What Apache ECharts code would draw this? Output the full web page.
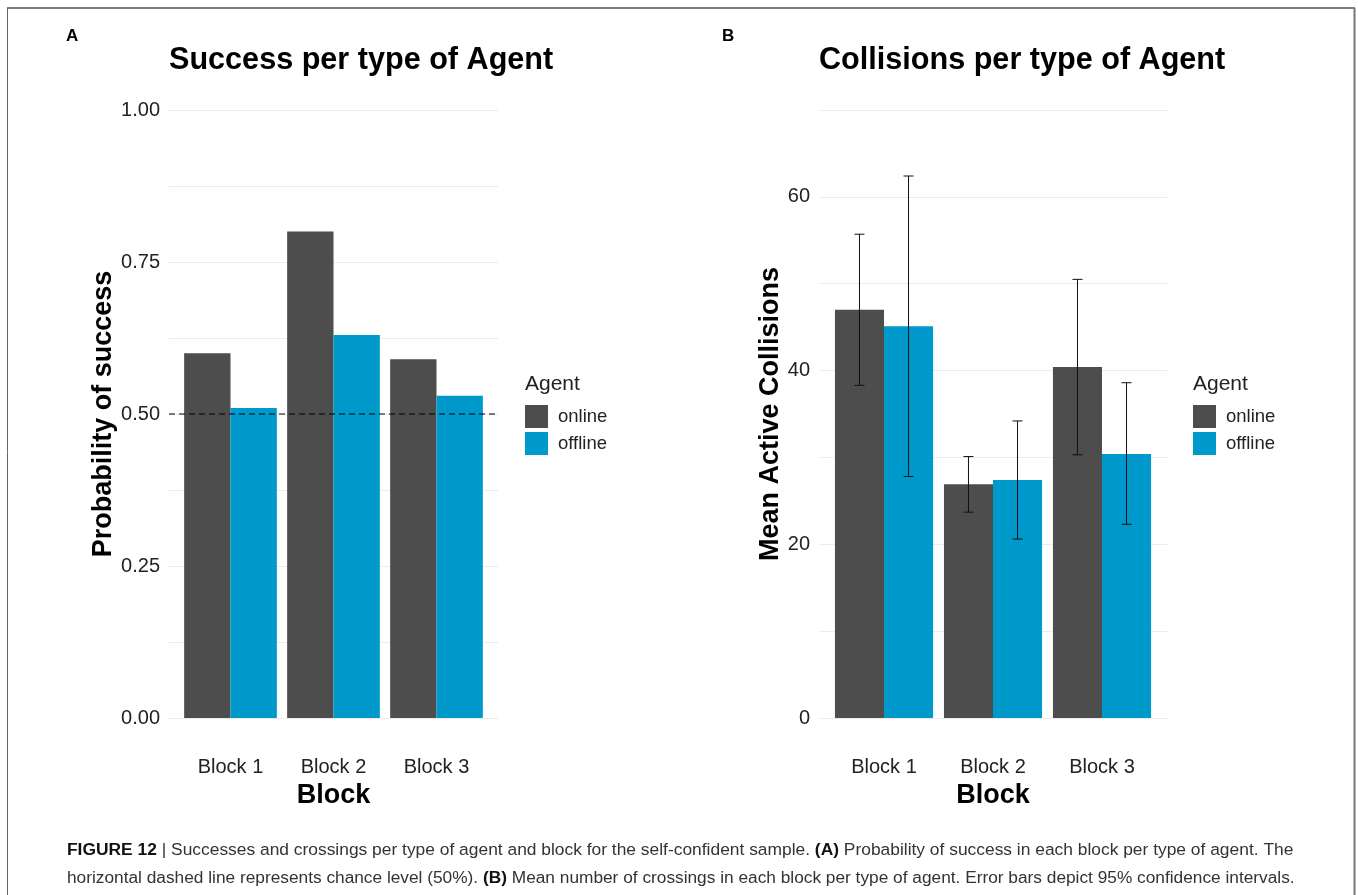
<!DOCTYPE html>
<html>
<head>
<meta charset="utf-8">
<script src="https://cdn.jsdelivr.net/npm/echarts@6/dist/echarts.min.js"></script>
<style>
html,body{margin:0;padding:0;background:#fff;}
#chart{width:1358px;height:895px;}
</style>
</head>
<body>
<div id="chart"></div>
<script>
// ---- data ----
const categories = ['Block 1', 'Block 2', 'Block 3'];
const agents = ['online', 'offline'];
const successOnline = [0.60, 0.80, 0.59];
const successOffline = [0.51, 0.63, 0.53];
const chanceLevel = 0.5;
const collisionsOnline = [47.0, 26.9, 40.4];
const collisionsOffline = [45.1, 27.4, 30.4];
const ciOnlineLow = [38.3, 23.7, 30.3];
const ciOnlineHigh = [55.7, 30.1, 50.5];
const ciOfflineLow = [27.8, 20.6, 22.3];
const ciOfflineHigh = [62.4, 34.2, 38.6];
const successTicks = [0, 0.25, 0.5, 0.75, 1.0];
const collisionTicks = [0, 20, 40, 60];

const FONT = "'Liberation Sans', Arial, Helvetica, sans-serif";
const C_ON = '#4d4d4d', C_OFF = '#0099cc';
const GRID_C = '#ebebeb';

const chart = echarts.init(document.getElementById('chart'), null, {renderer: 'canvas'});

function isTick(v, ticks) { return ticks.some(t => Math.abs(t - v) < 1e-9); }

function errorBarSeries(lows, highs, sign, name) {
  const data = lows.map((l, i) => [i, l, highs[i]]);
  return {
    type: 'custom', name: name + ' CI', xAxisIndex: 3, yAxisIndex: 3, z: 10,
    data: data, silent: true, legendHoverLink: false,
    renderItem: function (params, api) {
      const i = api.value(0);
      const band = api.size([1, 0])[0];
      const top = api.coord([i, api.value(2)]);
      const bot = api.coord([i, api.value(1)]);
      const x = top[0] + sign * band * 0.225;
      const cap = 5;
      const st = {stroke: '#111', lineWidth: 1};
      return {type: 'group', children: [
        {type: 'line', shape: {x1: x, y1: top[1], x2: x, y2: bot[1]}, style: st},
        {type: 'line', shape: {x1: x - cap, y1: top[1], x2: x + cap, y2: top[1]}, style: st},
        {type: 'line', shape: {x1: x - cap, y1: bot[1], x2: x + cap, y2: bot[1]}, style: st}
      ]};
    }
  };
}

const tickLabel = {fontSize: 20, color: '#222', fontFamily: FONT, margin: 9};
const axisNameStyle = {fontSize: 27, fontWeight: 'bold', color: '#000', fontFamily: FONT};
const titleStyle = {fontSize: 30.6, fontWeight: 'bold', color: '#000', fontFamily: FONT};
const panelTag = {fontSize: 17, fontWeight: 'bold', color: '#000', fontFamily: FONT};
const legendText = {fontSize: 18.5, color: '#222', fontFamily: FONT, padding: [2, 0, 0, 5]};

const option = {
  animation: false,
  textStyle: {fontFamily: FONT},
  title: [
    {text: 'Success per type of Agent', left: 169, top: 45, padding: 0, textStyle: titleStyle},
    {text: 'Collisions per type of Agent', left: 819, top: 45, padding: 0, textStyle: titleStyle},
    {text: 'A', left: 66, top: 28, padding: 0, textStyle: panelTag},
    {text: 'B', left: 722, top: 28, padding: 0, textStyle: panelTag}
  ],
  grid: [
    {left: 169, right: 860, top: 110, bottom: 177},
    {left: 179, right: 870, top: 110, bottom: 177},
    {left: 819, right: 191, top: 110, bottom: 177},
    {left: 829.5, right: 201.5, top: 110, bottom: 177}
  ],
  xAxis: [
    {gridIndex: 0, type: 'value', min: 0, max: 1, show: false},
    {gridIndex: 1, type: 'category', data: categories,
     axisLine: {show: false}, axisTick: {show: false},
     axisLabel: {fontSize: 20, color: '#222', fontFamily: FONT, margin: 39},
     name: 'Block', nameLocation: 'middle', nameGap: 61, nameTextStyle: axisNameStyle},
    {gridIndex: 2, type: 'value', min: 0, max: 1, show: false},
    {gridIndex: 3, type: 'category', data: categories,
     axisLine: {show: false}, axisTick: {show: false},
     axisLabel: {fontSize: 20, color: '#222', fontFamily: FONT, margin: 39},
     name: 'Block', nameLocation: 'middle', nameGap: 61, nameTextStyle: axisNameStyle}
  ],
  yAxis: [
    {gridIndex: 0, type: 'value', min: 0, max: 1, interval: 0.125,
     axisLine: {show: false}, axisTick: {show: false},
     splitLine: {lineStyle: {color: GRID_C, width: 1}},
     axisLabel: Object.assign({}, tickLabel, {formatter: v => isTick(v, successTicks) ? v.toFixed(2) : ''}),
     name: 'Probability of success', nameLocation: 'middle', nameGap: 51, nameTextStyle: axisNameStyle},
    {gridIndex: 1, type: 'value', min: 0, max: 1, show: false},
    {gridIndex: 2, type: 'value', min: 0, max: 70, interval: 10,
     axisLine: {show: false}, axisTick: {show: false},
     splitLine: {lineStyle: {color: GRID_C, width: 1}},
     axisLabel: Object.assign({}, tickLabel, {formatter: v => isTick(v, collisionTicks) ? String(v) : ''}),
     name: 'Mean Active Collisions', nameLocation: 'middle', nameGap: 33, nameTextStyle: axisNameStyle},
    {gridIndex: 3, type: 'value', min: 0, max: 70, show: false}
  ],
  legend: [
    {left: 525, top: 405, padding: 0, orient: 'vertical', itemWidth: 23, itemHeight: 23, itemGap: 4,
     icon: 'rect', data: agents, selectedMode: false, textStyle: legendText},
    {left: 1193, top: 405, padding: 0, orient: 'vertical', itemWidth: 23, itemHeight: 23, itemGap: 4,
     icon: 'rect', data: agents, selectedMode: false, textStyle: legendText}
  ],
  series: [
    {type: 'bar', name: 'online', xAxisIndex: 1, yAxisIndex: 1, data: successOnline,
     barGap: '0%', barCategoryGap: '10%', itemStyle: {color: C_ON}},
    {type: 'bar', name: 'offline', xAxisIndex: 1, yAxisIndex: 1, data: successOffline,
     barGap: '0%', barCategoryGap: '10%', itemStyle: {color: C_OFF}},
    {type: 'custom', name: 'chance', xAxisIndex: 0, yAxisIndex: 0, z: 10, silent: true,
     data: [[0, chanceLevel]],
     renderItem: function (params, api) {
       const y = api.coord([0, api.value(1)])[1];
       const cs = params.coordSys;
       return {type: 'line', shape: {x1: cs.x, y1: y, x2: cs.x + cs.width, y2: y},
               style: {stroke: '#000', lineWidth: 1.2, lineDash: [6, 4]}};
     }},
    {type: 'bar', name: 'online', xAxisIndex: 3, yAxisIndex: 3, data: collisionsOnline,
     barGap: '0%', barCategoryGap: '10%', itemStyle: {color: C_ON}},
    {type: 'bar', name: 'offline', xAxisIndex: 3, yAxisIndex: 3, data: collisionsOffline,
     barGap: '0%', barCategoryGap: '10%', itemStyle: {color: C_OFF}},
    errorBarSeries(ciOnlineLow, ciOnlineHigh, -1, 'online'),
    errorBarSeries(ciOfflineLow, ciOfflineHigh, 1, 'offline')
  ],
  graphic: [
    {type: 'line', shape: {x1: 7, y1: 8, x2: 1355, y2: 8}, style: {stroke: '#555', lineWidth: 1.5}},
    {type: 'line', shape: {x1: 7.5, y1: 8, x2: 7.5, y2: 895}, style: {stroke: '#666', lineWidth: 1}},
    {type: 'line', shape: {x1: 1354.5, y1: 8, x2: 1354.5, y2: 895}, style: {stroke: '#777', lineWidth: 2}},
    {type: 'text', left: 525, top: 374, style: {text: 'Agent', fontSize: 21, fill: '#222', fontFamily: FONT}},
    {type: 'text', left: 1193, top: 374, style: {text: 'Agent', fontSize: 21, fill: '#222', fontFamily: FONT}},
    {type: 'text', left: 67, top: 842, style: {
      text: '{b|FIGURE 12} {n||} Successes and crossings per type of agent and block for the self-confident sample. {b|(A)} Probability of success in each block per type of agent. The',
      fontFamily: FONT, fontSize: 17.4, fill: '#333',
      rich: {b: {fontWeight: 'bold', fill: '#111', fontSize: 17.4, fontFamily: FONT},
             n: {fill: '#333', fontSize: 17.4, fontFamily: FONT}}}},
    {type: 'text', left: 67, top: 870, style: {
      text: 'horizontal dashed line represents chance level (50%). {b|(B)} Mean number of crossings in each block per type of agent. Error bars depict 95% confidence intervals.',
      fontFamily: FONT, fontSize: 17.3, fill: '#333',
      rich: {b: {fontWeight: 'bold', fill: '#111', fontSize: 17.3, fontFamily: FONT}}}}
  ]
};
chart.setOption(option);
</script>
</body>
</html>
